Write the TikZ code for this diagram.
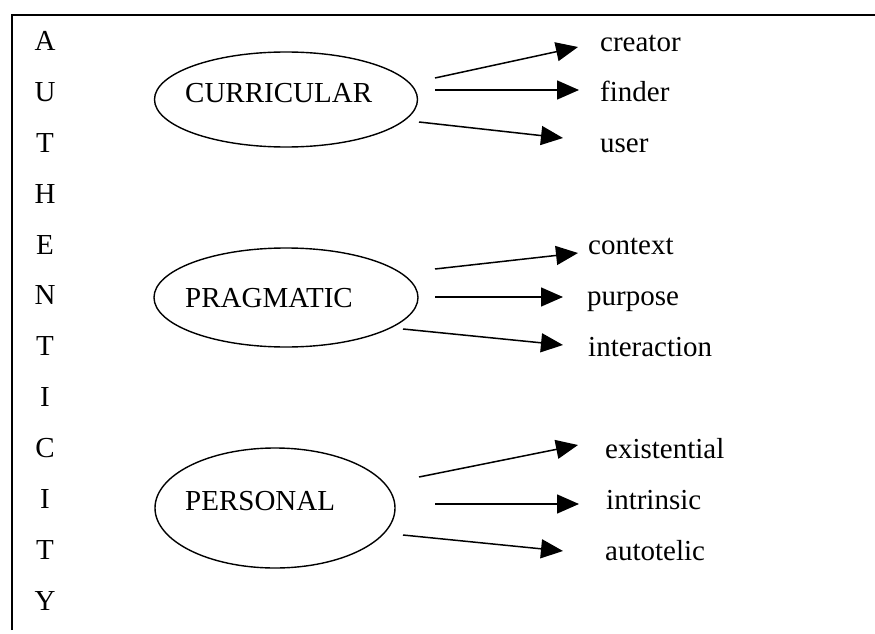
\documentclass[tikz,border=0pt]{standalone}
\usepackage{fontspec}
\setmainfont{Liberation Serif}
\usetikzlibrary{arrows.meta,shapes.geometric}

\begin{document}
\begin{tikzpicture}[x=1pt,y=-1pt,
  txt/.style={font=\fontsize{29}{34}\selectfont, inner sep=0pt},
  letter/.style={txt, anchor=base},
  item/.style={txt, anchor=base west},
  oval/.style={draw, ellipse, line width=1.4pt, inner sep=0pt},
  link/.style={line width=1.5pt, -{Triangle[length=22pt,width=19pt]}}]

\useasboundingbox (0,0) rectangle (875,634);

% open frame: top rule and left rule
\coordinate (fbl) at (12,630);
\coordinate (ftl) at (12,15);
\coordinate (ftr) at (875,15);
\draw[line width=2pt] (fbl) -- (ftl) -- (ftr);

% vertical word
\foreach \l [count=\i from 0] in {A,U,T,H,E,N,T,I,C,I,T,Y}
  \node[letter] (L\i) at (45, 50.7+50.85*\i) {\l};

% three categories
\node[oval, minimum width=263pt, minimum height=95pt] (curr) at (286,99.5) {};
\node[item] (currt) at (185,102.5) {CURRICULAR};
\node[oval, minimum width=264pt, minimum height=99pt] (prag) at (286,297.5) {};
\node[item] (pragt) at (185,307) {PRAGMATIC};
\node[oval, minimum width=240pt, minimum height=120pt] (pers) at (275,508) {};
\node[item] (perst) at (185,510) {PERSONAL};

% sub-items
\node[item] (creator) at (600,51.5) {creator};
\node[item] (finder) at (600,101.5) {finder};
\node[item] (user) at (600,152.5) {user};
\node[item] (context) at (588,254) {context};
\node[item] (purpose) at (587,305) {purpose};
\node[item] (interaction) at (588,356) {interaction};
\node[item] (existential) at (605,458) {existential};
\node[item] (intrinsic) at (606,509) {intrinsic};
\node[item] (autotelic) at (605,560) {autotelic};

% arrow ends
\coordinate (a1s) at (435,78);  \coordinate (a1e) at (578,47);
\coordinate (a2s) at (435,90);  \coordinate (a2e) at (579,90);
\coordinate (a3s) at (419,122); \coordinate (a3e) at (563,138);
\coordinate (b1s) at (435,269); \coordinate (b1e) at (578,253);
\coordinate (b2s) at (435,297); \coordinate (b2e) at (563,297);
\coordinate (b3s) at (403,329); \coordinate (b3e) at (563,345);
\coordinate (c1s) at (419,477); \coordinate (c1e) at (578,445);
\coordinate (c2s) at (435,504); \coordinate (c2e) at (579,504);
\coordinate (c3s) at (403,535); \coordinate (c3e) at (563,551);

\foreach \s/\e in {a1s/a1e,a2s/a2e,a3s/a3e,b1s/b1e,b2s/b2e,b3s/b3e,c1s/c1e,c2s/c2e,c3s/c3e}
  \draw[link] (\s) -- (\e);

\end{tikzpicture}
\end{document}
